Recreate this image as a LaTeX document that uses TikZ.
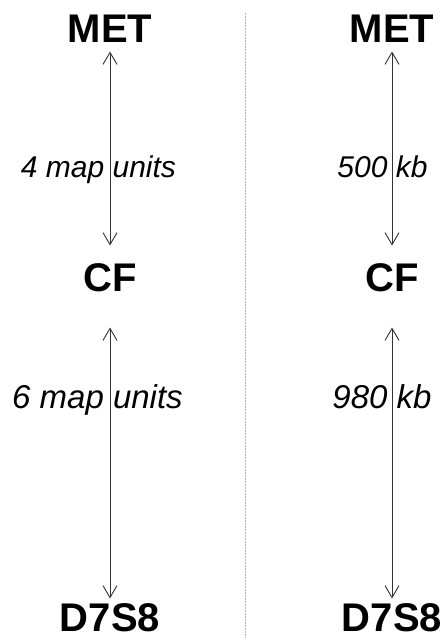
\documentclass[tikz,border=0pt]{standalone}
\usepackage{fontspec}
\setmainfont{Liberation Sans}
\usepackage{tikz}
\usetikzlibrary{arrows.meta}
\definecolor{inkgray}{HTML}{333333}
\definecolor{divgray}{HTML}{B4B4B4}
\tikzset{
  locus/.style={font=\fontsize{40}{40}\selectfont\bfseries, inner sep=0pt,
    text height=28.6pt, text depth=0pt},
  dlabel/.style={font=\fontsize{30}{30}\selectfont\itshape, inner sep=0pt, anchor=base},
  dlabelbig/.style={dlabel, font=\fontsize{33}{33}\selectfont\itshape},
  darrow/.style={{Straight Barb[length=12pt,width=14pt]}-{Straight Barb[length=12pt,width=14pt]},
    inkgray, line width=0.9pt}
}

\begin{document}
\begin{tikzpicture}[x=1pt,y=-1pt]
        \useasboundingbox[fill=white] (0,0) rectangle (445,643);
        \draw[divgray, line width=0.8pt, dash pattern=on 1.5pt off 1.5pt] (245,13) -- (245,638);
        % genetic map
        \node[locus] (met1) at (110,28) {MET};
        \node[locus] (cf1) at (110,277) {CF};
        \node[locus] (d7s8a) at (110,617) {D7S8};
        % physical map
        \node[locus] (met2) at (392,28) {MET};
        \node[locus] (cf2) at (392,277) {CF};
        \node[locus] (d7s8b) at (392,617) {D7S8};
        \draw[darrow, shorten <=9pt, shorten >=17pt] (met1) -- (cf1);
        \draw[darrow, shorten <=36pt, shorten >=4pt] (cf1) -- (d7s8a);
        \draw[darrow, shorten <=9pt, shorten >=17pt] (met2) -- (cf2);
        \draw[darrow, shorten <=36pt, shorten >=4pt] (cf2) -- (d7s8b);
        \node[dlabel] (gd1) at (98.5,177) {4 map units};
        \node[dlabelbig] (gd2) at (97.5,408) {6 map units};
        \node[dlabel] (pd1) at (382.5,177) {500 kb};
        \node[dlabelbig] (pd2) at (382,408) {980 kb};
      \end{tikzpicture}
\end{document}
